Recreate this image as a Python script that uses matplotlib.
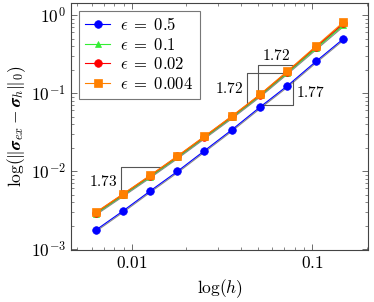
import numpy as np
import matplotlib
matplotlib.use("Agg")
import matplotlib.pyplot as plt
from matplotlib import transforms
from matplotlib.ticker import FixedLocator, LogLocator, NullFormatter

plt.rcParams['mathtext.fontset'] = 'cm'
plt.rcParams['font.family'] = ['DejaVu Serif']

h = [0.00632, 0.00892, 0.01263, 0.01787, 0.02523, 0.0358, 0.0513, 0.0727, 0.1047, 0.1485]
err_05 = [1.75e-3, 3.07e-3, 5.55e-3, 9.9e-3, 0.0182, 0.0338, 0.0662, 0.124, 0.255, 0.497]
err_01 = [2.85e-3, 4.90e-3, 8.50e-3, 0.0150, 0.0270, 0.0490, 0.0930, 0.183, 0.375, 0.745]
err_002 = [2.93e-3, 5.02e-3, 8.72e-3, 0.0154, 0.0276, 0.0502, 0.0952, 0.188, 0.392, 0.780]
err_0004 = [2.96e-3, 5.07e-3, 8.81e-3, 0.01556, 0.0279, 0.0507, 0.0962, 0.191, 0.401, 0.813]
labels = [r'$\epsilon\;=\;0.5$', r'$\epsilon\;=\;0.1$', r'$\epsilon\;=\;0.02$', r'$\epsilon\;=\;0.004$']
colors = ['#0000ff', '#33ee33', '#ff0000', '#ff8000']
markers = ['o', '^', 'o', 's']

# slope triangles: (series index, h_a, h_b, corner, label, label position)
triangles = [
    (3, 0.00873, 0.01466, 'ul', '1.73', 'left'),
    (3, 0.04333, 0.0710, 'ul', '1.72', 'left'),
    (3, 0.0502, 0.0799, 'ul', '1.72', 'top'),
    (0, 0.0533, 0.0785, 'lr', '1.77', 'right'),
]

series = [err_05, err_01, err_002, err_0004]

fig = plt.figure(figsize=(3.74, 3.02), dpi=100)
ax = fig.add_axes([0.19, 0.172, 0.794, 0.818])

shadow = transforms.offset_copy(ax.transData, fig=fig, x=0.6, y=-0.6, units='points')
for s in series:
    ax.plot(h, s, color='#888888', lw=0.8, transform=shadow, zorder=1)

for s, lab, c, m in zip(series, labels, colors, markers):
    ax.plot(h, s, color=c, lw=0.8, marker=m, markersize=5.5 if m != '^' else 5,
            markeredgewidth=0.5, label=lab, zorder=3)

def curve(idx, x):
    return 10 ** np.interp(np.log10(x), np.log10(h), np.log10(series[idx]))

for idx, ha, hb, corner, lab, pos in triangles:
    ya, yb = curve(idx, ha), curve(idx, hb)
    if corner == 'ul':
        ax.plot([ha, ha, hb], [ya, yb, yb], color='#555555', lw=0.8, zorder=2)
    else:
        ax.plot([ha, hb, hb], [ya, ya, yb], color='#555555', lw=0.8, zorder=2)
    if pos == 'left':
        ax.text(ha * 0.96, np.sqrt(ya * yb), r'$%s$' % lab, ha='right',
                va='center', fontsize=11)
    elif pos == 'top':
        ax.text(np.sqrt(ha * hb), yb * 1.04, r'$%s$' % lab, ha='center',
                va='bottom', fontsize=11)
    else:
        ax.text(hb * 1.03, np.sqrt(ya * yb), r'$%s$' % lab, ha='left',
                va='center', fontsize=11)

ax.set_xscale('log')
ax.set_yscale('log')
ax.set_xlim(0.00461, 0.203)
ax.set_ylim(10 ** -3.013, 10 ** 0.154)

ax.xaxis.set_major_locator(FixedLocator([0.01, 0.1]))
ax.set_xticklabels([r'$0.01$', r'$0.1$'])
ax.xaxis.set_minor_locator(LogLocator(base=10, subs=np.arange(2, 10)))
ax.xaxis.set_minor_formatter(NullFormatter())
ax.yaxis.set_major_locator(FixedLocator([1e-3, 1e-2, 1e-1, 1]))
ax.set_yticklabels([r'$10^{-3}$', r'$10^{-2}$', r'$10^{-1}$', r'$10^{0}$'])
ax.yaxis.set_minor_locator(LogLocator(base=10, subs=np.arange(2, 10)))
ax.yaxis.set_minor_formatter(NullFormatter())

ax.tick_params(which='both', direction='in', top=True, right=True, labelsize=12.5,
               color='#555555')
ax.tick_params(which='major', length=4, width=0.6)
ax.tick_params(which='minor', length=2.5, width=0.5)
for sp in ax.spines.values():
    sp.set_linewidth(0.8)
    sp.set_color('#444444')

ax.set_xlabel(r'$\log(h)$', fontsize=12.5, labelpad=4)
ax.set_ylabel(r'$\log(\|\boldsymbol{\sigma}_{ex}-\boldsymbol{\sigma}_h\|_0)$', fontsize=12.5, labelpad=2)

leg = ax.legend(loc='upper left', fontsize=12, frameon=True, fancybox=False,
                edgecolor='#555555', borderpad=0.4, labelspacing=0.15,
                handlelength=1.5, handletextpad=0.6, borderaxespad=0.45)
leg.get_frame().set_linewidth(0.8)

fig.savefig('out.png', dpi=100)
